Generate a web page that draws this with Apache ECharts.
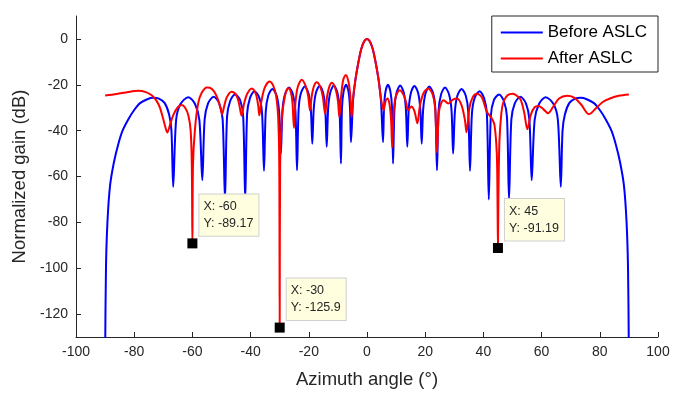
<!DOCTYPE html>
<html><head><meta charset="utf-8">
<script src="https://cdn.jsdelivr.net/npm/echarts@6/dist/echarts.min.js"></script>
<style>html,body{margin:0;padding:0;background:#fff}#c{width:680px;height:394px}</style>
</head><body><div id="c"></div>
<script>
const xTicks = [-100, -80, -60, -40, -20, 0, 20, 40, 60, 80, 100];
const yTicks = [-120, -100, -80, -60, -40, -20, 0];
const seriesNames = ['Before ASLC', 'After ASLC'];

const beforeAngle = [-90,-89.7,-89.2,-88.3,-87,-85.5,-84,-82,-80,-78,-75.5,-73.5,-71.5,-69.5,-68,-67.2,-66.6,-65.6,-64.1,-61.4,-59.1,-57.6,-56.6,-55.8,-54.65,-52.7,-50.75,-49.6,-48.8,-48.1,-47.05,-45.4,-43.6,-42.55,-41.85,-41.2,-40.2,-38.7,-37,-36.05,-35.4,-34.8,-33.95,-32.5,-31.05,-30.2,-29.6,-29.05,-28.2,-26.8,-25.45,-24.6,-24.05,-23.5,-22.75,-21.4,-20.1,-19.3,-18.8,-18.3,-17.55,-16.3,-15.1,-14.35,-13.85,-13.35,-12.6,-11.4,-10.2,-9.45,-8.95,-8.6,-8.05,-7.2,-6.35,-5.85,-5.5,-4.8,-4,-3,-2,-1,
0,1,2,3,4,4.8,5.5,5.85,6.35,7.2,8.05,8.6,8.95,9.45,10.2,11.4,12.6,13.35,13.85,14.35,15.1,16.3,17.55,18.3,18.8,19.3,20.1,21.4,22.75,23.5,24.05,24.6,25.45,26.8,28.2,29.05,29.6,30.2,31.05,32.5,33.95,34.8,35.4,36.05,37,38.7,40.2,41.2,41.85,42.55,43.6,45.4,47.05,48.1,48.8,49.6,50.75,52.7,54.65,55.8,56.6,57.6,59.1,61.4,64.1,65.6,66.6,67.2,68,69.5,71.5,73.5,75.5,78,80,82,84,85.5,87,88.3,89.2,89.7,90];
const beforeGain = [-140,-100,-80,-64,-54,-46,-40,-35,-31,-28,-26.3,-25.7,-26,-28,-33,-40,-64.5,-35.4,-28.4,-25.4,-28.4,-35.4,-61.6,-35.2,-28.2,-25.2,-28.2,-35.2,-70,-34,-27.2,-24.2,-26.7,-33.7,-70,-32.7,-25.7,-22.8,-25.7,-32.7,-57.5,-31.8,-24.8,-21.8,-24.8,-31.8,-50,-31.2,-24.2,-21.2,-24.2,-31.2,-57.3,-30.8,-23.8,-20.8,-23.8,-30.8,-45.7,-30.5,-23.5,-20.5,-23.5,-30.5,-47,-30.3,-23.3,-20.3,-23.3,-30.3,-54.3,-30,-23,-20,-23,-30,-45,-27,-18,-10.5,-4.5,-1.1,
0,-1.1,-4.5,-10.5,-18,-27,-45,-30,-23,-20,-23,-30,-54.3,-30.3,-23.3,-20.3,-23.3,-30.3,-47,-30.5,-23.5,-20.5,-23.5,-30.5,-45.7,-30.8,-23.8,-20.8,-23.8,-30.8,-57.3,-31.2,-24.2,-21.2,-24.2,-31.2,-50,-31.8,-24.8,-21.8,-24.8,-31.8,-57.5,-32.7,-25.7,-22.8,-25.7,-32.7,-70,-33.7,-26.7,-24.2,-27.2,-34,-70,-35.2,-28.2,-25.2,-28.2,-35.2,-61.6,-35.4,-28.4,-25.4,-28.4,-35.4,-64.5,-40,-33,-28,-26,-25.7,-26.3,-28,-31,-35,-40,-46,-54,-64,-80,-100,-140];

const afterAngle = [-90,-86,-82,-78.6,-76,-74,-72.3,-71.1,-69.8,-68.6,-67.6,-66.5,-65,-63.7,-62.5,-61.4,-60.6,-60.2,-60,-59.8,-59.1,-58,-56.8,-55,-54,-52.5,-51.2,-50.2,-49.8,-49.2,-48.2,-46.5,-45,-44,-43.1,-42.2,-41.2,-39.6,-38.2,-37.4,-37,-36.4,-35.2,-33.5,-32.2,-31.2,-30.5,-30.15,-30,-29.85,-29.3,-28.5,-27.7,-27,-26.2,-25.6,-25.1,-24.6,-23.8,-22.4,-21.1,-20.2,-19.6,-19,-18.2,-17.3,-16.2,-15.2,-14.4,-13.7,-13,-12.1,-10.9,-10,-9.5,-8.9,-8.2,-7.3,-6.4,-5.8,-5.3,-4.8,-4,-3,-2,-1,
0,1,2,3,4,4.8,5.7,6.4,7.1,7.8,8.3,8.65,9.1,9.8,11.2,12.6,13.5,14.1,15.2,16.3,17.3,18.2,19.5,21.05,22.5,23.4,24.05,24.7,25.5,26.3,27.9,29.5,31,32.5,33.6,34.2,35.2,36.3,37.8,39.5,41.2,42.8,43.8,44.6,44.85,45,45.15,45.5,46.2,46.9,48.3,50.1,51.5,52.8,54,55.1,56.3,57.6,58.9,60.5,62.2,64,66,68.7,71,73.5,76.3,78.5,81,83.5,86.5,90];
const afterGain = [-24.7,-24,-23.1,-22.6,-23.2,-24.6,-27,-30.2,-36,-40.8,-37,-33,-29.8,-28.8,-30,-33.3,-40,-55,-89.17,-55,-39.1,-28,-23.5,-21.2,-21.3,-23,-26.5,-31,-32.9,-30,-25.5,-23,-24.3,-28,-33.5,-28,-24,-21.6,-24,-29,-33.3,-28,-21.5,-18.6,-20.5,-25,-35,-55,-125.9,-55,-35,-27,-22.5,-21.5,-23,-28,-38.8,-28,-21,-17.8,-20.5,-25,-31.2,-25,-20.5,-18.9,-20.5,-25,-32.6,-25,-21,-19.1,-21.5,-27,-34.1,-25,-18,-15.7,-18.5,-24,-34.1,-26,-18,-10.5,-4.5,-1.1,
0,-1.1,-4.5,-10.5,-18,-26,-31.2,-27,-26,-29,-36,-47.3,-33,-25.5,-22.4,-24.5,-28,-31.2,-29.5,-31.5,-36.8,-29,-23.5,-21.6,-24,-30,-49.5,-32,-28,-26.7,-28.2,-26.5,-26,-29,-35,-40.7,-30,-25.5,-23.9,-25.5,-31.8,-34.5,-37.5,-50,-70,-91.19,-70,-45,-32,-27.5,-24.6,-23.9,-24.8,-26.5,-32,-39.4,-33,-29.8,-29.2,-30.5,-32.4,-29.5,-26,-24.8,-25.5,-28.5,-32.8,-30.5,-27.5,-26,-24.8,-24.2];

const tipX = [-60, -30, 45];
const tipY = [-89.17, -125.9, -91.19];

const zip = (a, b) => a.map((v, i) => [v, b[i]]);
const ink = '#262626';
const font = 'Liberation Sans, Arial, sans-serif';

const chart = echarts.init(document.getElementById('c'), null, {renderer: 'canvas'});
chart.setOption({
  animation: false,
  backgroundColor: '#fff',
  textStyle: {fontFamily: font},
  grid: {left: 76, right: 22, top: 16, bottom: 57, containLabel: false},
  legend: {
    data: seriesNames,
    orient: 'vertical',
    right: 22, top: 16,
    backgroundColor: '#fff',
    borderColor: ink, borderWidth: 1,
    padding: [8, 11, 5, 9],
    itemGap: 9,
    itemWidth: 42, itemHeight: 2,
    icon: 'rect',
    textStyle: {fontSize: 17, color: '#000', fontFamily: font}
  },
  xAxis: {
    type: 'value', min: -100, max: 100, interval: 20,
    name: 'Azimuth angle (°)', nameLocation: 'middle', nameGap: 33,
    nameTextStyle: {fontSize: 18.5, color: ink, fontFamily: font},
    axisLine: {onZero: false, lineStyle: {color: ink, width: 1}},
    axisTick: {inside: true, length: 5, lineStyle: {color: ink}},
    axisLabel: {fontSize: 14, color: ink, margin: 8, fontFamily: font,
      customValues: xTicks},
    splitLine: {show: false}
  },
  yAxis: {
    type: 'value', min: -130, max: 10,
    name: 'Normalized gain (dB)', nameLocation: 'middle', nameGap: 42,
    nameTextStyle: {fontSize: 18.5, color: ink, fontFamily: font},
    axisLine: {show: true, onZero: false, lineStyle: {color: ink, width: 1}},
    axisTick: {show: true, inside: true, length: 5, lineStyle: {color: ink}, customValues: yTicks},
    axisLabel: {fontSize: 14, color: ink, margin: 8, fontFamily: font, customValues: yTicks},
    splitLine: {show: false}
  },
  series: [
    {
      name: seriesNames[0], type: 'line', data: zip(beforeAngle, beforeGain),
      showSymbol: false, symbol: 'none', clip: true, smooth: 0.3,
      color: '#0000ff', lineStyle: {color: '#0000ff', width: 2}
    },
    {
      name: seriesNames[1], type: 'line', data: zip(afterAngle, afterGain),
      showSymbol: false, symbol: 'none', clip: true, smooth: 0.3,
      color: '#ff0000', lineStyle: {color: '#ff0000', width: 2},
      markPoint: {
        symbol: 'rect', symbolSize: 10,
        itemStyle: {color: '#000'},
        label: {
          show: true, position: [12, -44],
          color: ink, fontSize: 12.5, lineHeight: 16.7, fontFamily: font,
          backgroundColor: '#ffffe0', borderColor: '#cfcfcf', borderWidth: 1,
          padding: [4, 5, 4, 4], align: 'left', verticalAlign: 'top',
          formatter: p => 'X: ' + p.data.coord[0] + '\nY: ' + p.data.coord[1]
        },
        data: tipX.map((x, i) => ({coord: [x, tipY[i]]}))
      }
    }
  ]
});
</script>
</body></html>
